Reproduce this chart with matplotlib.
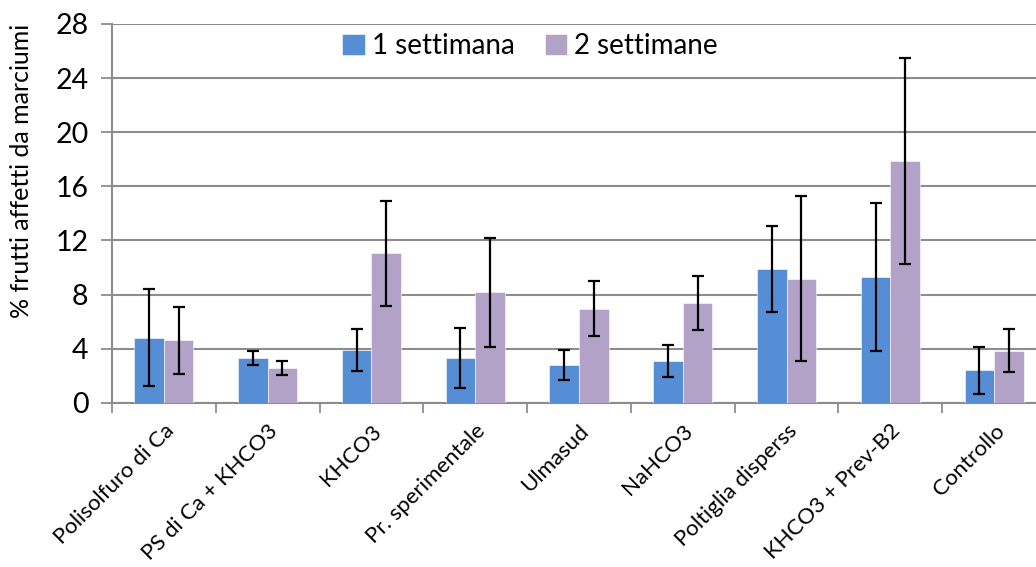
import matplotlib
matplotlib.use("Agg")
import matplotlib.pyplot as plt
import numpy as np

categories = ["Polisolfuro di Ca", "PS di Ca + KHCO3", "KHCO3", "Pr. sperimentale",
              "Ulmasud", "NaHCO3", "Poltiglia disperss", "KHCO3 + Prev-B2", "Controllo"]
week1 = [4.8, 3.3, 3.9, 3.3, 2.8, 3.1, 9.9, 9.3, 2.4]
week1_err = [3.6, 0.5, 1.55, 2.25, 1.1, 1.2, 3.2, 5.5, 1.75]
week2 = [4.6, 2.55, 11.05, 8.15, 6.95, 7.4, 9.15, 17.85, 3.85]
week2_err = [2.5, 0.53, 3.9, 4.05, 2.05, 2.0, 6.1, 7.6, 1.6]
series_labels = ["1 settimana", "2 settimane"]
yticks = [0, 4, 8, 12, 16, 20, 24, 28]

plt.rcParams['font.family'] = ['Lato', 'DejaVu Sans']

fig = plt.figure(figsize=(10.36, 5.67), dpi=100)
ax = fig.add_axes([112/1036, 164.3/567, 934/1036, 378.7/567])

x = np.arange(len(categories))
w = 0.285
blue = "#558ED5"
purple = "#B3A2C7"
ekw = dict(ecolor="black", elinewidth=1.6, capsize=4, capthick=1.6)
ax.bar(x - w/2, week1, w, color=blue, edgecolor="white", linewidth=0.4,
       yerr=week1_err, error_kw=ekw, label=series_labels[0], zorder=3)
ax.bar(x + w/2, week2, w, color=purple, edgecolor="white", linewidth=0.4,
       yerr=week2_err, error_kw=ekw, label=series_labels[1], zorder=3)

ax.set_xlim(-0.5, len(categories) - 0.5)
ax.set_ylim(0, 28)
ax.set_yticks(yticks)
ax.set_yticklabels([str(t) for t in yticks], fontsize=20.5)
ax.yaxis.grid(True, color="#8c8c8c", linewidth=1.5, zorder=0)
ax.set_axisbelow(True)

# category boundary ticks
ax.set_xticks(np.arange(-0.5, len(categories) + 0.5, 1.0))
ax.set_xticklabels([])
ax.set_xticks(x, minor=True)
ax.set_xticklabels(categories, minor=True, rotation=45, ha="right",
                   rotation_mode="anchor", fontsize=16)
ax.tick_params(axis="x", which="minor", length=0, pad=13)
ax.tick_params(axis="x", which="major", length=7, width=1.3, color="#8c8c8c", direction="out")
ax.tick_params(axis="y", length=8, width=1.3, color="#8c8c8c", pad=9)

for s in ["top", "right"]:
    ax.spines[s].set_visible(False)
ax.spines["left"].set_color("#8c8c8c")
ax.spines["left"].set_linewidth(1.5)
ax.spines["bottom"].set_color("#8c8c8c")
ax.spines["bottom"].set_linewidth(1.5)

fig.text(22/1036, 1 - 171/567, "% frutti affetti da marciumi", rotation=90,
         ha="center", va="center", fontsize=18)

leg = ax.legend(loc="center", bbox_to_anchor=(530/1036, 1 - 46/567),
                bbox_transform=fig.transFigure, ncol=2, frameon=False,
                fontsize=20, handlelength=0.8, handleheight=0.8,
                handletextpad=0.25, columnspacing=1.1)

fig.savefig("out.png", dpi=100)
